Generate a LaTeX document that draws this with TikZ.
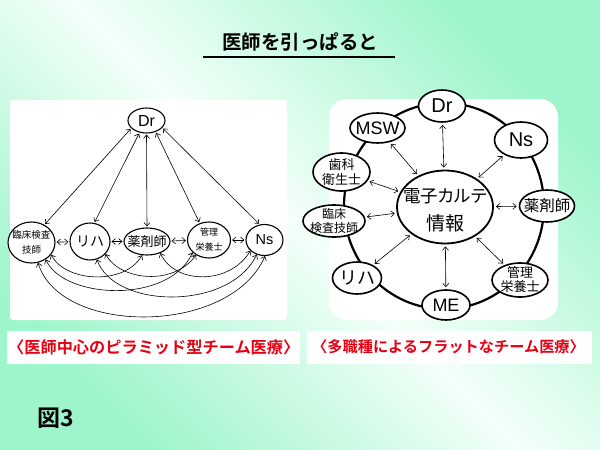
\documentclass[tikz,border=0pt]{standalone}
\usepackage{fontspec}
\setmainfont{Noto Sans CJK JP}[BoldFont={Noto Sans CJK JP Bold}]
\newfontfamily\lat{Liberation Sans}
\newfontfamily\jpp{Noto Sans CJK JP}[RawFeature=+palt]
\usetikzlibrary{shapes.geometric,arrows.meta}
\definecolor{bgg}{RGB}{158,245,203}
\definecolor{bgw}{RGB}{244,255,249}
\definecolor{lred}{RGB}{230,0,18}
\newcommand\fzz[2]{\fontsize{#1}{#2}\selectfont}
\newcommand\en[7]{\node[#1, minimum width=#4pt, minimum height=#5pt,
  label={[font={#6}, align=center, inner sep=0pt]center:{#7}}] (#2) at (#3) {};}
\tikzset{
  enode/.style={ellipse, draw, fill=white, inner sep=0pt},
  lnode/.style={enode, line width=1.1pt},
  rnode/.style={enode, line width=1.6pt},
  arr/.style={{Straight Barb[length=3.5pt,width=6pt]}-{Straight Barb[length=3.5pt,width=6pt]}, line width=0.6pt},
  panel/.style={fill=white, draw=none},
}
\begin{document}
\begin{tikzpicture}[x=1pt,y=-1pt]
\useasboundingbox (0,0) rectangle (600,450);
% background
\shade[top color=bgg, bottom color=bgg, middle color=bgw, shading angle=-45] (0,0) rectangle (600,450);
% panels
\fill[panel, rounded corners=3pt] (10,100) rectangle (287,320);
\fill[panel, rounded corners=18pt] (329,99) rectangle (558,320);
\fill[panel] (7,331) rectangle (300,364);
\fill[panel] (307,331) rectangle (592,364);
% title
\node[font={\fzz{19.5}{22}\bfseries}, inner sep=0pt] (title) at (300,42) {医師を引っぱると};
\coordinate (ul1) at (203,57);
\coordinate (ul2) at (395,57);
\draw[line width=2pt] (ul1) -- (ul2);
% labels
\node[font={\fzz{16.2}{18}\bfseries}, text=lred, anchor=west, inner sep=0pt] (lab1) at (8,347) {〈医師中心のピラミッド型チーム医療〉};
\node[font={\fzz{15.2}{18}\bfseries}, text=lred, anchor=west, inner sep=0pt] (lab2) at (312,347) {〈多職種によるフラットなチーム医療〉};
\node[font={\fzz{23}{26}\bfseries}, inner sep=0pt] (fig) at (56,418) {図3};
% ---------- left diagram ----------
\en{lnode}{ldr}{146.5,120.5}{37}{25}{\fzz{16}{18}\lat}{Dr}
\en{lnode}{llin}{31.5,242.5}{47}{41}{\fzz{9.5}{15}}{臨床検査\\技師}
\en{lnode}{lriha}{90,241.5}{40}{37}{\fzz{14}{16}}{リハ}
\en{lnode}{lyaku}{147,241.5}{46}{27}{\fzz{13}{15}}{薬剤師}
\en{lnode}{lkan}{209,240}{43}{36}{\fzz{9}{15}}{管理\\栄養士}
\en{lnode}{lns}{264.5,240}{37}{31}{\fzz{14.5}{16}\lat}{Ns}
\draw[arr, shorten <=1pt, shorten >=1pt] (ldr.-153) -- (llin.54);
\draw[arr, shorten <=1pt, shorten >=1pt] (ldr.-120) -- (lriha.77);
\draw[arr, shorten <=1pt, shorten >=1pt] (ldr.south) -- (lyaku.north);
\draw[arr, shorten <=1pt, shorten >=1pt] (ldr.-51) -- (lkan.119);
\draw[arr, shorten <=1pt, shorten >=1pt] (ldr.-25) -- (lns.107);
\draw[arr, shorten <=1pt, shorten >=1pt] (llin) -- (lriha);
\draw[arr, shorten <=1pt, shorten >=1pt] (lriha) -- (lyaku);
\draw[arr, shorten <=1pt, shorten >=1pt] (lyaku) -- (lkan);
\draw[arr, shorten <=1pt, shorten >=1pt] (lkan) -- (lns);
\draw[arr] (llin.-32) .. controls +(15,28) and +(-17,30) .. (lyaku.-110);
\draw[arr] (llin.-50) .. controls +(18,40) and +(-23,52) .. (lkan.-143);
\draw[arr] (llin.-72) .. controls +(22,73) and +(-35,80) .. (lns.-88);
\draw[arr] (lriha.-69) .. controls +(18,50) and +(-27,56) .. (lns.-118);
\draw[arr] (lriha.-39) .. controls +(15,27) and +(-22,31) .. (lkan.-131);
\draw[arr] (lyaku.-41) .. controls +(15,32) and +(-20,34) .. (lns.-143);
% ---------- right diagram ----------
\draw[line width=2.2pt] (444,206) ellipse [x radius=100pt, y radius=103pt];
\en{rnode}{rdr}{442,106}{47}{32}{\fzz{20}{22}\lat}{Dr}
\en{rnode}{rns}{521,140}{53}{36}{\fzz{20}{22}\lat}{Ns}
\en{rnode}{ryaku}{547,206}{55}{32}{\fzz{15.5}{18}}{薬剤師}
\en{rnode}{rkan}{520,280}{56}{34}{\fzz{13}{14}}{管理\\栄養士}
\en{rnode}{rme}{446,305}{48}{30}{\fzz{18}{20}\lat}{ME}
\en{rnode}{rriha}{357,278}{49}{32}{\fzz{18}{20}}{リハ}
\en{rnode}{rlin}{334,221}{62}{32}{\fzz{12}{14}}{臨床\\検査技師}
\en{rnode}{rshi}{341.5,172}{57}{38}{\fzz{13}{15}}{歯科\\衛生士}
\en{rnode}{rmsw}{377.5,128}{55}{30}{\fzz{18}{20}\lat}{MSW}
\node[enode, line width=1.8pt, minimum width=96pt, minimum height=73pt,
  label={[font={\jpp\fzz{17.5}{28}}, align=center, inner sep=0pt, yshift=-3pt]center:{電子カルテ\\{\fzz{19}{28}情報}}}] (rc) at (445,207) {};
\foreach \n in {rdr,rns,ryaku,rkan,rme,rriha,rlin,rshi,rmsw}
  \draw[arr, shorten <=2pt, shorten >=2pt] (rc) -- (\n);
\end{tikzpicture}
\end{document}
